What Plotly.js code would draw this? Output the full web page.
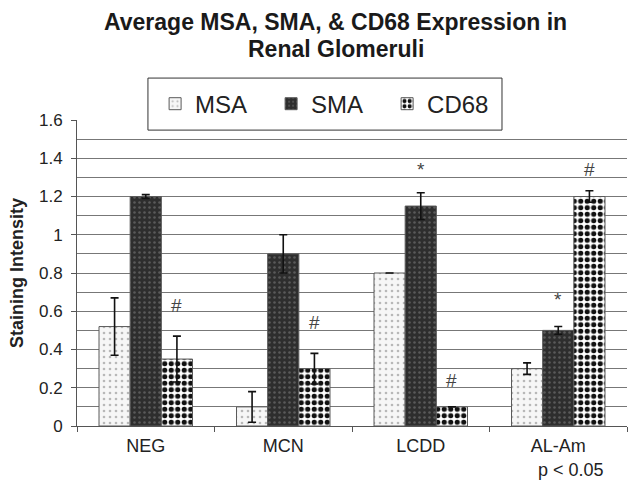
<!DOCTYPE html>
<html>
<head>
<meta charset="utf-8">
<script src="https://cdn.plot.ly/plotly-3.0.1.min.js"></script>
<style>html,body{margin:0;padding:0;background:#fff;}#chart{width:631px;height:483px;}</style>
</head>
<body>
<div id="chart"></div>
<script>
const categories = ["NEG", "MCN", "LCDD", "AL-Am"];
const msaValues = [0.52, 0.10, 0.80, 0.30];
const msaErrors = [0.15, 0.08, 0.0, 0.03];
const smaValues = [1.20, 0.90, 1.15, 0.50];
const smaErrors = [0.01, 0.10, 0.07, 0.02];
const cd68Values = [0.35, 0.30, 0.10, 1.20];
const cd68Errors = [0.12, 0.08, 0.0, 0.03];
const yTickVals = [0, 0.2, 0.4, 0.6, 0.8, 1, 1.2, 1.4, 1.6];
const yTickText = ["0", "0.2", "0.4", "0.6", "0.8", "1", "1.2", "1.4", "1.6"];
const gridVals = [0.1, 0.2, 0.3, 0.4, 0.5, 0.6, 0.7, 0.8, 0.9, 1.0, 1.1, 1.2, 1.3, 1.4, 1.5];
// significance marks: category index, series offset (-1 MSA, 0 SMA, 1 CD68), y, symbol
const markCategory = [0, 1, 2, 2, 3, 3];
const markSeries = [1, 1, 0, 1, 0, 1];
const markY = [0.63, 0.54, 1.34, 0.24, 0.66, 1.34];
const markText = ["#", "#", "*", "#", "*", "#"];
const titleLines = ["Average MSA, SMA, & CD68 Expression in", "Renal Glomeruli"];
const footnote = "p < 0.05";

const FONT = 'Liberation Sans, Arial, sans-serif';
const bargap = 0.32;
const barW = (1 - bargap) / 3;
const errStyle = {type: 'data', visible: true, color: '#111', thickness: 1.6, width: 4};
const line = {color: '#5a5a5a', width: 1};

const traces = [
  {type: 'bar', name: 'MSA', x: categories, y: msaValues,
   error_y: Object.assign({array: msaErrors}, errStyle),
   marker: {color: '#f2f2f2', line: line,
            pattern: {shape: '.', fgcolor: '#b8b8b8', bgcolor: '#f6f6f6', size: 6, solidity: 0.15}}},
  {type: 'bar', name: 'SMA', x: categories, y: smaValues,
   error_y: Object.assign({array: smaErrors}, errStyle),
   marker: {color: '#333', line: line,
            pattern: {shape: '.', fgcolor: '#5a5a5a', bgcolor: '#2e2e2e', size: 5, solidity: 0.2}}},
  {type: 'bar', name: 'CD68', x: categories, y: cd68Values,
   error_y: Object.assign({array: cd68Errors}, errStyle),
   marker: {color: '#fff', line: line,
            pattern: {shape: '.', fgcolor: '#111', bgcolor: '#ffffff', size: 6.5, solidity: 0.5}}},
  {type: 'scatter', mode: 'markers', x: categories, y: [null, null, null, null],
   yaxis: 'y2', showlegend: false, hoverinfo: 'skip'}
];

const annotations = markText.map((t, i) => ({
  x: markCategory[i] + markSeries[i] * barW, y: markY[i], xref: 'x', yref: 'y',
  text: t, showarrow: false, font: {family: FONT, size: 19, color: '#444'}
}));
annotations.push({
  x: 3.09, y: -0.144, xref: 'x', yref: 'paper', yanchor: 'middle', text: footnote, showarrow: false,
  font: {family: FONT, size: 18, color: '#222'}
});
const titleY = [1.320, 1.232];
titleLines.forEach((t, i) => annotations.push({
  x: 0.47, y: titleY[i], xref: 'paper', yref: 'paper', xanchor: 'center', yanchor: 'middle',
  text: '<b>' + t + '</b>', showarrow: false, font: {family: FONT, size: 23, color: '#1a1a1a'}
}));

const layout = {
  width: 631, height: 483,
  margin: {l: 77, r: 4, t: 120, b: 57},
  paper_bgcolor: '#fff', plot_bgcolor: '#fff',
  font: {family: FONT, color: '#222', size: 16},
  barmode: 'group', bargap: bargap, bargroupgap: 0,
  showlegend: true,
  legend: {orientation: 'h', x: 0.142, y: 1.052, xanchor: 'left', yanchor: 'middle',
           bgcolor: 'rgba(0,0,0,0)', borderwidth: 0, entrywidth: 71, entrywidthmode: 'pixels',
           font: {size: 24, color: '#222'}, itemwidth: 30},
  shapes: [{type: 'rect', xref: 'paper', yref: 'paper', x0: 0.129, x1: 0.7727, y0: 0.967, y1: 1.137,
            line: {color: '#333', width: 1}, fillcolor: 'rgba(0,0,0,0)', layer: 'above'}],
  xaxis: {type: 'category', showline: true, linecolor: '#555', linewidth: 1,
          ticks: 'outside', tickson: 'boundaries', ticklen: 5, tickcolor: '#555',
          ticklabelstandoff: 3,
          showgrid: false, tickfont: {size: 18, color: '#222'}},
  yaxis: {range: [0, 1.6], showline: true, linecolor: '#555', linewidth: 1,
          ticks: 'outside', ticklen: 5, tickcolor: '#555', ticklabelstandoff: 5,
          tickvals: yTickVals, ticktext: yTickText, showgrid: false,
          zeroline: false, tickfont: {size: 17, color: '#222'},
          title: {text: '<b>Staining Intensity</b>', font: {size: 18, color: '#222'}, standoff: 10}},
  yaxis2: {overlaying: 'y', range: [0, 1.6], tickvals: gridVals, showticklabels: false,
           ticks: '', showgrid: true, gridcolor: '#777', gridwidth: 1, zeroline: false, showline: false},
  annotations: annotations
};

Plotly.newPlot('chart', traces, layout, {displayModeBar: false, staticPlot: true});
</script>
</body>
</html>
